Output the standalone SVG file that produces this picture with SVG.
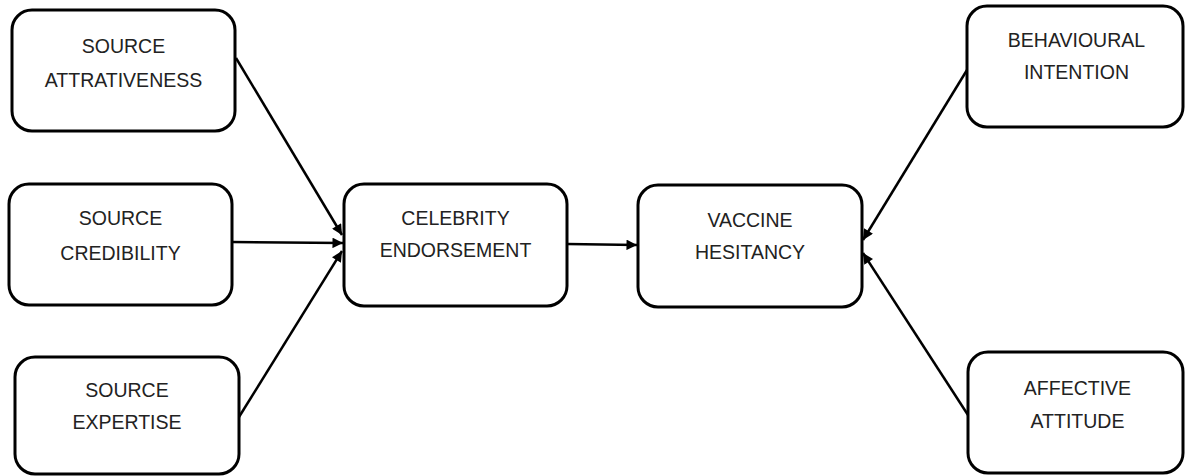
<svg xmlns="http://www.w3.org/2000/svg" width="1185" height="476" viewBox="0 0 1185 476">
<style>
.box{fill:#fff;stroke:#000;stroke-width:3}
.t{font-family:"Liberation Sans",Arial,sans-serif;font-size:19.5px;fill:#222;text-anchor:middle}
.c{stroke:#000;stroke-width:2.5;fill:none;marker-end:url(#ah)}
</style>
<defs>
<marker id="ah" viewBox="0 0 10 10" refX="10" refY="5" markerWidth="4.6" markerHeight="4.2" orient="auto" markerUnits="strokeWidth">
<path d="M0,0 L10,5 L0,10 z" fill="#000"/>
</marker>
</defs>
<rect width="1185" height="476" fill="#fff"/>
<g id="connectors">
<line class="c" x1="236" y1="58" x2="342" y2="235"/>
<line class="c" x1="232" y1="242" x2="343" y2="243"/>
<line class="c" x1="239" y1="417" x2="342" y2="251"/>
<line class="c" x1="567" y1="244" x2="637" y2="245"/>
<line class="c" x1="967" y1="70" x2="863" y2="240"/>
<line class="c" x1="968" y1="415" x2="863" y2="253"/>
</g>
<g id="source-attrativeness">
<rect class="box" x="12" y="10" width="223" height="121" rx="20"/>
<text class="t" x="123.5" y="53">SOURCE</text>
<text class="t" x="123.5" y="87">ATTRATIVENESS</text>
</g>
<g id="source-credibility">
<rect class="box" x="9" y="184" width="223" height="121" rx="20"/>
<text class="t" x="120.5" y="225">SOURCE</text>
<text class="t" x="120.5" y="260">CREDIBILITY</text>
</g>
<g id="source-expertise">
<rect class="box" x="15" y="357" width="224" height="117" rx="20"/>
<text class="t" x="127" y="397">SOURCE</text>
<text class="t" x="127" y="429">EXPERTISE</text>
</g>
<g id="celebrity-endorsement">
<rect class="box" x="344" y="184" width="223" height="122" rx="20"/>
<text class="t" x="455.5" y="225">CELEBRITY</text>
<text class="t" x="455.5" y="257">ENDORSEMENT</text>
</g>
<g id="vaccine-hesitancy">
<rect class="box" x="638" y="185" width="224" height="122" rx="20"/>
<text class="t" x="750" y="227">VACCINE</text>
<text class="t" x="750" y="259">HESITANCY</text>
</g>
<g id="behavioural-intention">
<rect class="box" x="967" y="6" width="216" height="121" rx="20"/>
<text class="t" x="1076.5" y="47">BEHAVIOURAL</text>
<text class="t" x="1076.5" y="79">INTENTION</text>
</g>
<g id="affective-attitude">
<rect class="box" x="968" y="352" width="215" height="121" rx="20"/>
<text class="t" x="1077.5" y="395">AFFECTIVE</text>
<text class="t" x="1077.5" y="428">ATTITUDE</text>
</g>
</svg>
